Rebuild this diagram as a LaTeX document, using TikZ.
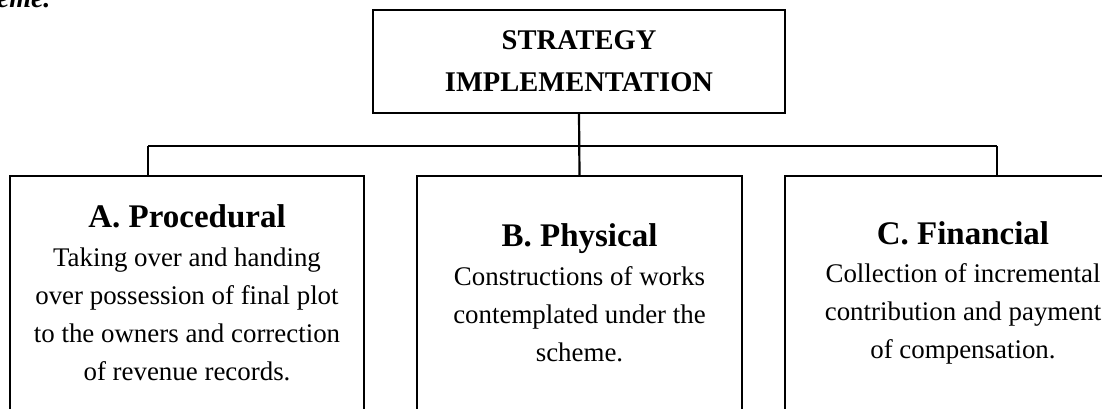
\documentclass[tikz,border=0pt]{standalone}
\usepackage{fontspec}
\setmainfont{Liberation Serif}
\tikzset{
  stratbox/.style={draw, line width=2.2pt, rectangle, align=center, inner sep=0pt},
  branchbox/.style={stratbox, minimum height=234pt, font=\fontsize{26.9}{38.2}\selectfont},
  link/.style={line width=2.2pt}
}
\newcommand{\boxhead}[1]{{\fontsize{33}{38.2}\selectfont\bfseries #1}}
\begin{document}
\begin{tikzpicture}[x=1pt,y=-1pt]
\useasboundingbox (0,0) rectangle (1102,408);
\clip (0,0) rectangle (1102,408);
\node[anchor=base east, font=\fontsize{28}{30}\selectfont\bfseries\itshape] (caption) at (54,7) {Scheme.};
\node[stratbox, minimum width=412pt, minimum height=103pt, font=\fontsize{28.5}{42}\selectfont\bfseries] (strategy) at (579,61.5) {STRATEGY\\IMPLEMENTATION};
\node[branchbox, minimum width=354pt] (proc) at (187,293) {\boxhead{A. Procedural}\\Taking over and handing\\over possession of final plot\\to the owners and correction\\of revenue records.};
\node[branchbox, minimum width=325pt] (phys) at (579.5,293) {\boxhead{B. Physical}\\Constructions of works\\contemplated under the\\scheme.};
\node[branchbox, minimum width=356pt] (fin) at (963,293) {\boxhead{C. Financial}\\Collection of incremental\\contribution and payment\\of compensation.};
\coordinate (busL) at (148,146);
\coordinate (busR) at (997,146);
\draw[link](strategy.south) -- (phys.north);
\draw[link](busL) -- (busR);
\draw[link](busL) -- (busL |- proc.north);
\draw[link](busR) -- (busR |- fin.north);
\end{tikzpicture}
\end{document}
